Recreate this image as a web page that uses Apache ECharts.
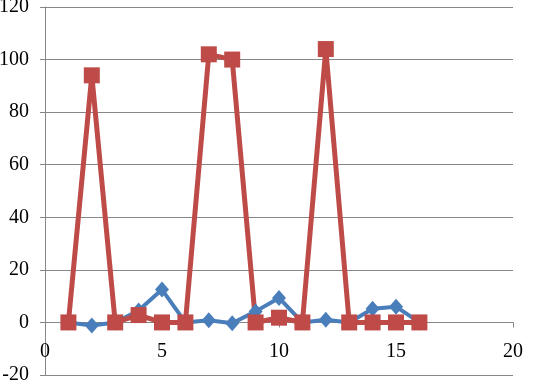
<!DOCTYPE html>
<html>
<head>
<meta charset="utf-8">
<script src="https://cdn.jsdelivr.net/npm/echarts@6/dist/echarts.min.js"></script>
<style>
  html, body { margin: 0; padding: 0; background: #fff; }
  #chart { width: 533px; height: 383px; }
</style>
</head>
<body>
<div id="chart"></div>
<script>
// x positions shared by both series
var xValues = [1, 2, 3, 4, 5, 6, 7, 8, 9, 10, 11, 12, 13, 14, 15, 16]
// blue diamonds
var blueValues = [0, -1.2, 0, 4.5, 12.5, 0, 0.8, -0.3, 4.2, 9.3, 0, 1, 0, 5.2, 6, 0]
// red squares
var redValues = [0, 94, 0, 2.8, 0, 0, 102, 100, 0, 1.8, 0, 104, 0, 0, 0, 0]

function pairs(ys) {
  return xValues.map(function (x, i) { return [x, ys[i]] })
}

var gridTop = 7
var gridBottom = 8
var yMin = -20
var yMax = 120
// the x axis crosses at y = 0, so lift it up from the bottom of the grid
var plotH = 383 - gridTop - gridBottom
var zeroLift = plotH * (0 - yMin) / (yMax - yMin)

var chart = echarts.init(document.getElementById('chart'))
var labelFont = { fontFamily: 'Liberation Serif', fontSize: 20, color: '#000' }

chart.setOption({
  animation: false,
  grid: {
    left: 45, right: 20, top: gridTop, bottom: gridBottom,
    containLabel: false, outerBoundsMode: 'none'
  },
  xAxis: {
    type: 'value',
    min: 0,
    max: 20,
    interval: 5,
    position: 'bottom',
    offset: -zeroLift,
    axisLine: { onZero: false, lineStyle: { color: '#868686', width: 1 } },
    axisTick: { show: true, length: 5, lineStyle: { color: '#868686' } },
    axisLabel: Object.assign({ margin: 19 }, labelFont),
    splitLine: { show: false }
  },
  yAxis: {
    type: 'value',
    min: yMin,
    max: yMax,
    interval: 20,
    axisLine: { show: true, lineStyle: { color: '#868686', width: 1 } },
    axisTick: { show: true, length: 5, lineStyle: { color: '#868686' } },
    axisLabel: Object.assign({ margin: 16 }, labelFont),
    splitLine: { lineStyle: { color: '#868686', width: 1 } }
  },
  series: [
    {
      type: 'line',
      data: pairs(blueValues),
      symbol: 'diamond',
      symbolSize: [14, 16],
      lineStyle: { color: '#4a7ebb', width: 4 },
      itemStyle: { color: '#4a7ebb' }
    },
    {
      type: 'line',
      data: pairs(redValues),
      symbol: 'rect',
      symbolSize: 16,
      lineStyle: { color: '#be4b48', width: 5 },
      itemStyle: { color: '#be4b48' }
    }
  ]
})
</script>
</body>
</html>
